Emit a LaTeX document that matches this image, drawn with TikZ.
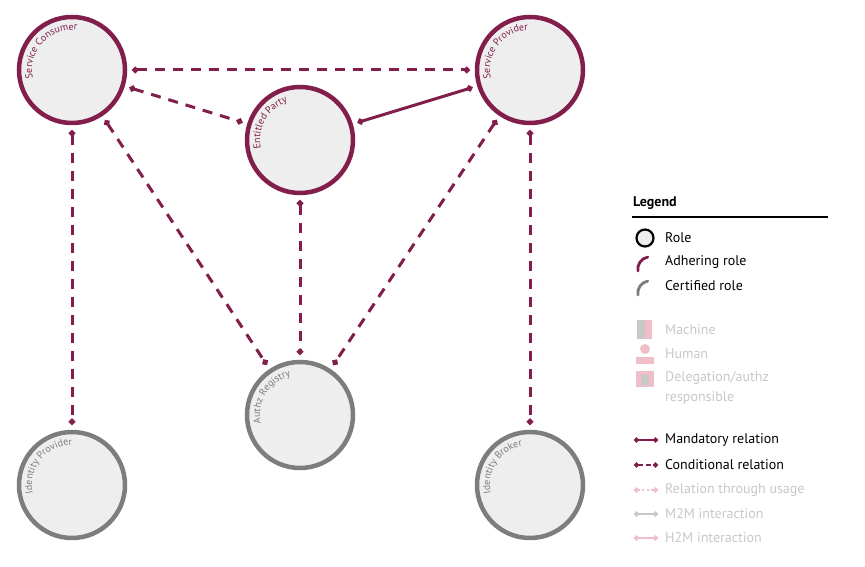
\documentclass[tikz,border=0pt]{standalone}
\usepackage{fontspec}
\setmainfont{PT Sans}
\usetikzlibrary{decorations.text,arrows.meta}
\definecolor{maroon}{RGB}{130,30,75}
\definecolor{cgray}{RGB}{125,125,125}
\definecolor{cfill}{RGB}{238,238,238}
\definecolor{faint}{RGB}{200,200,200}
\definecolor{fpink}{RGB}{240,190,200}
\tikzset{
 role/.style={circle,draw,line width=4.5pt,fill=cfill,minimum size=106pt,inner sep=0pt},
 adh/.style={role,draw=maroon},
 cert/.style={role,draw=cgray},
 rel/.style={draw=maroon,line width=3pt,{Circle[length=6pt]}-{Circle[length=6pt]},shorten <=5pt,shorten >=5pt},
 cond/.style={rel,dash pattern=on 10pt off 8pt},
 lt/.style={anchor=west,font=\fontsize{14}{16}\selectfont,inner sep=0pt},
 ls1/.style={solid},
 ls2/.style={dash pattern=on 5pt off 3pt},
 ls3/.style={dash pattern=on 2pt off 2.5pt},
}
\newcommand{\arctext}[3]{\path[font=\fontsize{15}{17}\selectfont,decorate,decoration={text along path,text align=left,text={|\color{#3}|#2}}] (#1) ++(192:40pt) arc[start angle=192,end angle=-30,radius=40pt];}
\begin{document}
\begin{tikzpicture}[x=1pt,y=1pt]
\useasboundingbox[fill=white] (0,0) rectangle (865,567);
\node[adh] (sc) at (72,497) {};
\node[adh] (sp) at (530,497) {};
\node[adh] (ep) at (300,427) {};
\node[cert] (ar) at (300,152) {};
\node[cert] (idp) at (72,82) {};
\node[cert] (ib) at (530,82) {};
\arctext{sc.center}{Service Consumer}{maroon}
\arctext{sp.center}{Service Provider}{maroon}
\arctext{ep.center}{Entitled Party}{maroon}
\arctext{ar.center}{Authz Registry}{cgray}
\arctext{idp.center}{Identity Provider}{cgray}
\arctext{ib.center}{Identity Broker}{cgray}
\draw[cond] (sc) -- (sp);
\draw[cond] (sc) -- (ep);
\draw[rel] (sp) -- (ep);
\draw[cond] (sc) -- (idp);
\draw[cond] (sc) -- (ar);
\draw[cond] (ep) -- (ar);
\draw[cond] (sp) -- (ar);
\draw[cond] (sp) -- (ib);
% legend
\node[lt,font=\fontsize{14}{16}\selectfont\bfseries] (lg) at (633,364) {Legend};
\coordinate (la) at (632,350); \coordinate (lb) at (828,350);
\draw[line width=1.8pt] (la) -- (lb);
\draw[line width=2.2pt,fill=cfill] (645,329) circle (8.5pt);
\node[lt] (t1) at (665,329) {Role};
\draw[maroon,line width=2.8pt,line cap=round] (638,296) arc[start angle=190,end angle=100,radius=12pt];
\node[lt] (t2) at (665,305) {Adhering role};
\draw[cgray,line width=2.8pt,line cap=round] (638,272) arc[start angle=190,end angle=100,radius=12pt];
\node[lt] (t3) at (665,281) {Certified role};
\fill[fpink] (637,228) rectangle (652,247);
\fill[faint] (637,228) rectangle (645,247);
\node[lt,text=faint] (t4) at (665,237) {Machine};
\fill[fpink] (645,218) circle (5pt);
\fill[fpink] (636,203) rectangle (654,210);
\node[lt,text=faint] (t5) at (665,213) {Human};
\fill[fpink] (636,180) rectangle (654,196);
\fill[faint] (641,182) rectangle (649,192);
\node[lt,text=faint] (t6) at (665,189) {Delegation/authz};
\node[lt,text=faint] (t7) at (665,169) {responsible};
\foreach \yy/\nm/\col/\sty in {127/m1/maroon/ls1,102/m2/maroon/ls2,77/m3/fpink/ls3,53/m4/faint/ls1,29/m5/fpink/ls1}{
 \coordinate (\nm a) at (634,\yy); \coordinate (\nm b) at (658,\yy);
 \draw[\col,line width=2.2pt,\sty,{Circle[length=5pt]}-{Circle[length=5pt]}] (\nm a) -- (\nm b);
}
\node[lt] at (665,127) {Mandatory relation};
\node[lt] at (665,102) {Conditional relation};
\node[lt,text=faint] at (665,77) {Relation through usage};
\node[lt,text=faint] at (665,53) {M2M interaction};
\node[lt,text=faint] at (665,29) {H2M interaction};
\end{tikzpicture}
\end{document}
